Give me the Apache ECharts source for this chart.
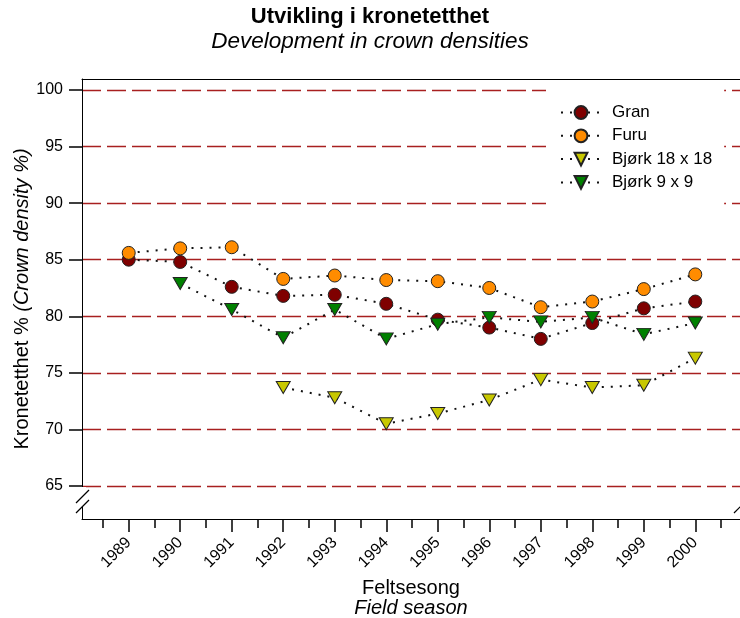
<!DOCTYPE html>
<html>
<head>
<meta charset="utf-8">
<script src="https://cdn.jsdelivr.net/npm/echarts@6/dist/echarts.min.js"></script>
<style>
html, body { margin: 0; padding: 0; background: #fff; }
#chart { width: 740px; height: 618px; }
</style>
</head>
<body>
<div id="chart"></div>
<script>
var years = [1989, 1990, 1991, 1992, 1993, 1994, 1995, 1996, 1997, 1998, 1999, 2000];
var gran = [85.0, 84.8, 82.6, 81.8, 81.9, 81.1, 79.7, 79.0, 78.0, 79.4, 80.7, 81.3];
var furu = [85.6, 86.0, 86.1, 83.3, 83.6, 83.2, 83.1, 82.5, 80.8, 81.3, 82.4, 83.7];
var bjork18 = [null, null, null, 73.7, 72.8, 70.5, 71.4, 72.6, 74.4, 73.7, 73.9, 76.3];
var bjork9 = [null, 82.9, 80.6, 78.1, 80.6, 78.0, 79.3, 79.9, 79.5, 79.9, 78.4, 79.4];
var yTicks = [65, 70, 75, 80, 85, 90, 95, 100];
var halfTicks = [1988.5, 1989.5, 1990.5, 1991.5, 1992.5, 1993.5, 1994.5, 1995.5, 1996.5, 1997.5, 1998.5, 1999.5, 2000.5];

var font = 'Liberation Sans, Arial, sans-serif';

function pairs(vals) {
    var out = [];
    for (var i = 0; i < years.length; i++) {
        if (vals[i] != null) out.push([years[i], vals[i]]);
    }
    return out;
}

var dom = document.getElementById('chart');
var myChart = echarts.init(dom);

var dotted = { color: '#111', width: 2, type: [2, 7] };

function lineSeries(name, vals, color, tri) {
    return {
        name: name,
        type: 'line',
        data: pairs(vals),
        symbol: tri ? 'triangle' : 'circle',
        symbolRotate: tri ? 180 : 0,
        symbolSize: tri ? [14, 12] : 13,
        lineStyle: dotted,
        itemStyle: { color: color, borderColor: '#222', borderWidth: 1 },
        emphasis: { disabled: true },
        animation: false
    };
}

var xMin = 1988.093, xMax = 2000.868;

var option = {
    animation: false,
    title: [{
        text: 'Utvikling i kronetetthet',
        left: 'center',
        top: 1,
        textStyle: { fontFamily: font, fontSize: 22, fontWeight: 'bold', color: '#000' }
    }, {
        text: 'Development in crown densities',
        left: 'center',
        top: 25,
        textStyle: { fontFamily: font, fontSize: 22.5, fontStyle: 'italic', fontWeight: 'normal', color: '#000' }
    }],
    legend: {
        orient: 'vertical',
        left: 546,
        top: 86,
        padding: [18, 12, 17, 14],
        itemWidth: 40,
        itemHeight: 16,
        itemGap: 6.3,
        backgroundColor: '#fff',
        textStyle: { fontFamily: font, fontSize: 17, color: '#000', padding: [0, 0, 0, 6] },
        data: ['Gran', 'Furu', 'Bjørk 18 x 18', 'Bjørk 9 x 9']
    },
    grid: { left: 82, right: 0, top: 79, bottom: 99, containLabel: false, outerBoundsMode: 'none' },
    xAxis: [{
        type: 'value',
        min: xMin,
        max: xMax,
        position: 'bottom',
        name: '{n|Feltsesong}\n{i|Field season}',
        nameLocation: 'middle',
        nameGap: 59,
        nameTextStyle: {
            rich: {
                n: { fontFamily: font, fontSize: 20, color: '#000', lineHeight: 20 },
                i: { fontFamily: font, fontSize: 20, fontStyle: 'italic', color: '#000', lineHeight: 20 }
            }
        },
        axisLine: { show: true, onZero: false, lineStyle: { color: '#000', width: 1 } },
        axisTick: { show: true, length: 13, customValues: years, lineStyle: { color: '#000', width: 1.5 } },
        axisLabel: {
            customValues: years,
            rotate: 45,
            margin: 21,
            fontFamily: font,
            fontSize: 16,
            color: '#000',
            formatter: function (v) { return String(Math.round(v)); }
        },
        splitLine: { show: false }
    }, {
        type: 'value',
        min: xMin,
        max: xMax,
        position: 'bottom',
        axisLine: { show: false },
        axisTick: { show: true, length: 9, customValues: halfTicks, lineStyle: { color: '#000', width: 1.5 } },
        axisLabel: { show: false },
        splitLine: { show: false }
    }, {
        type: 'value',
        min: xMin,
        max: xMax,
        position: 'top',
        axisLine: { show: true, lineStyle: { color: '#000', width: 1 } },
        axisTick: { show: false },
        axisLabel: { show: false },
        splitLine: { show: false }
    }],
    yAxis: {
        type: 'value',
        min: 62.08,
        max: 100.97,
        name: '{n|Kronetetthet % }{i|(Crown density %)}',
        nameLocation: 'middle',
        nameRotate: 90,
        nameGap: 50,
        nameMoveOverlap: false,
        nameTextStyle: {
            rich: {
                n: { fontFamily: font, fontSize: 20, color: '#000' },
                i: { fontFamily: font, fontSize: 20, fontStyle: 'italic', color: '#000' }
            }
        },
        axisLine: { show: true, onZero: false, lineStyle: { color: '#000', width: 1 } },
        axisTick: { show: true, length: 13, customValues: yTicks, lineStyle: { color: '#000', width: 1.5 } },
        axisLabel: {
            customValues: yTicks,
            margin: 19,
            fontFamily: font,
            fontSize: 16,
            color: '#000'
        },
        splitLine: { show: true, lineStyle: { color: '#a82020', width: 1.3, type: [19, 6] } }
    },
    graphic: [
        { type: 'rect', shape: { x: 79, y: 487, width: 7, height: 20 }, style: { fill: '#fff' }, z: 100 },
        { type: 'line', shape: { x1: 76, y1: 503, x2: 89, y2: 490 }, style: { stroke: '#000', lineWidth: 1.2 }, z: 101 },
        { type: 'line', shape: { x1: 76, y1: 513, x2: 89, y2: 500 }, style: { stroke: '#000', lineWidth: 1.2 }, z: 101 },
        { type: 'line', shape: { x1: 734, y1: 513, x2: 747, y2: 500 }, style: { stroke: '#000', lineWidth: 1.2 }, z: 101 }
    ],
    series: [
        lineSeries('Gran', gran, '#7f0000', false),
        lineSeries('Furu', furu, '#ff8c00', false),
        lineSeries('Bjørk 18 x 18', bjork18, '#c8c800', true),
        lineSeries('Bjørk 9 x 9', bjork9, '#008000', true)
    ]
};

if (option && typeof option === 'object') {
    myChart.setOption(option, true);
}
</script>
</body>
</html>
